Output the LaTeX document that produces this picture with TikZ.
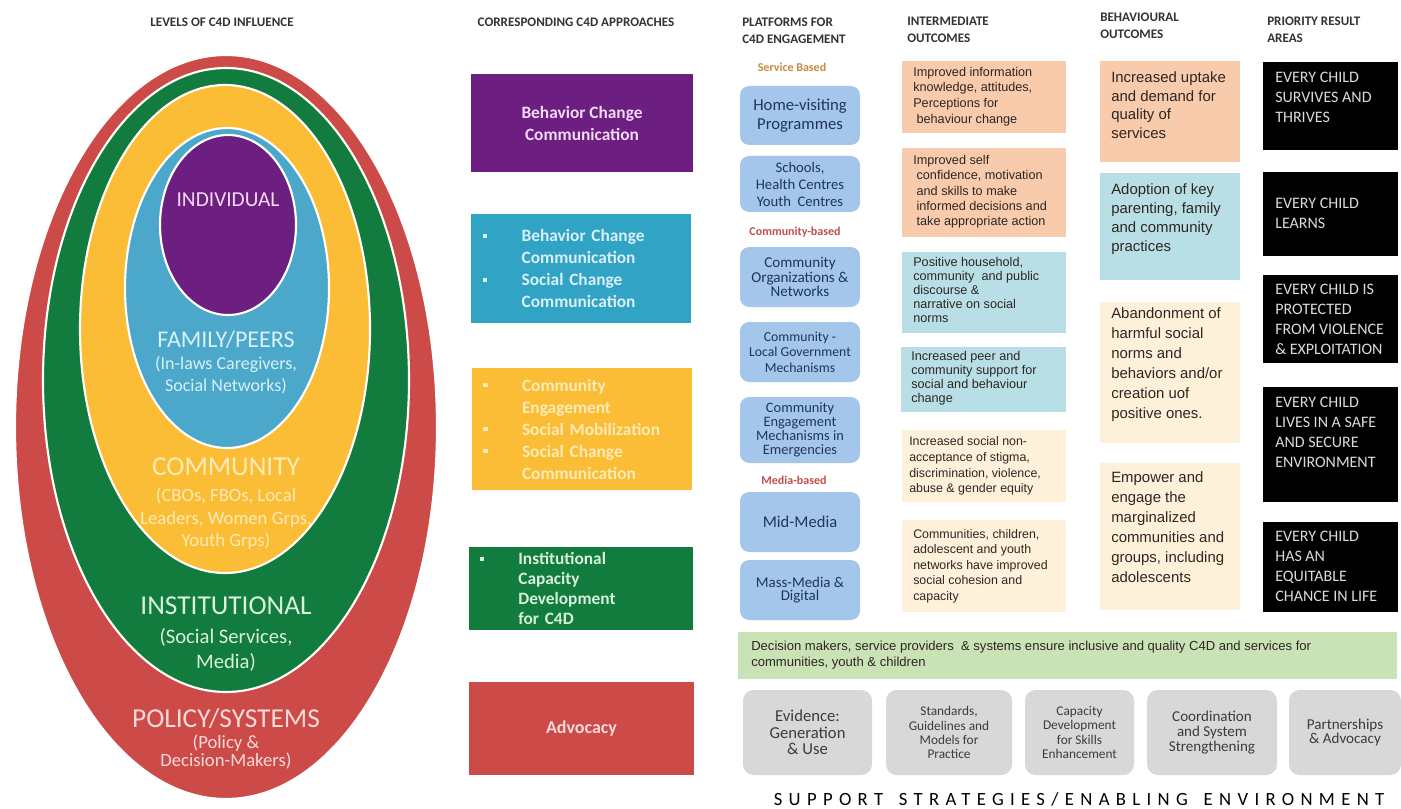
\documentclass[tikz,border=0pt]{standalone}
\usepackage{fontspec}
\setmainfont{Carlito}
\newfontfamily\arialfont{Liberation Sans}
\newfontfamily\spacedfont[LetterSpace=34,WordSpace=1.5]{Carlito}
\usetikzlibrary{shapes.geometric}

\definecolor{ringred}{HTML}{CC4B48}
\definecolor{ringgreen}{HTML}{117C3D}
\definecolor{ringyellow}{HTML}{FBBD35}
\definecolor{ringblue}{HTML}{4BA8CA}
\definecolor{ringpurple}{HTML}{6C1F80}
\definecolor{apteal}{HTML}{31A3C4}
\definecolor{platblue}{HTML}{A4C6EA}
\definecolor{navy}{HTML}{1F3658}
\definecolor{salmon}{HTML}{F8CBAD}
\definecolor{paleteal}{HTML}{B9DFE6}
\definecolor{cream}{HTML}{FDF1DA}
\definecolor{bargreen}{HTML}{C9E3B6}
\definecolor{supgray}{HTML}{D8D8D8}
\definecolor{headgray}{HTML}{333333}
\definecolor{svcorange}{HTML}{C98A3E}
\definecolor{comred}{HTML}{C0504D}
\definecolor{txtpurple}{HTML}{F2DAF5}
\definecolor{txtblue}{HTML}{D9F0F8}
\definecolor{txtyellow}{HTML}{FDEBB8}
\definecolor{txtgreen}{HTML}{D8F0DC}
\definecolor{txtred}{HTML}{F8DAD8}
\definecolor{bodytext}{HTML}{2E2622}
\definecolor{graytext}{HTML}{3C3C3C}

% square bullet and matching hanging indent for the approach boxes
\newcommand{\sqb}{\makebox[29pt][l]{\rule[2.8pt]{3.2pt}{3.2pt}}}
\newcommand{\hang}{\hspace*{29pt}}

\tikzset{
  ring/.style={ellipse, draw=white, line width=1.6pt, inner sep=0pt},
  dim/.style 2 args={minimum width=#1*0.75pt, minimum height=#2*0.75pt},
  head/.style={font=\bfseries\fontsize{9.8}{12.75}\selectfont, text=headgray, inner sep=0pt, align=left},
  approach/.style={inner sep=0pt, font=\bfseries\fontsize{13}{16.5}\selectfont},
  plat/.style={fill=platblue, rounded corners=7pt, inner sep=0pt, text=navy, align=center},
  platlabel/.style={font=\bfseries\fontsize{9}{11}\selectfont, inner sep=0pt},
  outbox/.style={inner sep=0pt},
  iotext/.style={anchor=west, align=left, inner sep=0pt, text=bodytext},
  botext/.style={anchor=west, align=left, inner sep=0pt, text=bodytext},
  prbox/.style={fill=black, inner sep=0pt},
  prtext/.style={anchor=west, align=left, inner sep=0pt, text=black!14,
                 font=\fontsize{12}{15}\selectfont},
  supbox/.style={fill=supgray, rounded corners=8pt, inner sep=0pt, text=graytext, align=center},
  lvltitle/.style={inner sep=0pt, align=center},
}

\begin{document}
\begin{tikzpicture}[x=0.75pt,y=-0.75pt]
\useasboundingbox (0,0) rectangle (1401,809);
\fill[white] (0,0) rectangle (1401,809);

% ---------------- levels of influence (nested ellipses)
\node[head, anchor=center] (h1) at (222,22) {LEVELS OF C4D INFLUENCE};
\node[ring, fill=ringred,    dim={422}{744}] (polring)  at (226,427) {};
\node[ring, fill=ringgreen,  dim={366}{624}] (instring) at (226,380) {};
\node[ring, fill=ringyellow, dim={290}{488}] (comring)  at (225,329) {};
\node[ring, fill=ringblue,   dim={204}{320}] (famring)  at (227,288) {};
\node[ring, fill=ringpurple, dim={136}{180}] (indring)  at (228,225) {};

\node[lvltitle, text=txtpurple, font=\fontsize{16}{18}\selectfont] (indt) at (228,200) {INDIVIDUAL};
\node[lvltitle, text=txtblue, font=\fontsize{18}{20}\selectfont] (famt) at (226,340) {FAMILY/PEERS};
\node[lvltitle, text=txtblue, font=\fontsize{13.5}{17}\selectfont] (fams) at (226,375) {(In-laws Caregivers,\\Social Networks)};
\node[lvltitle, text=txtyellow, font=\fontsize{20.5}{22}\selectfont] (comt) at (226,467) {COMMUNITY};
\node[lvltitle, text=txtyellow, font=\fontsize{14}{17}\selectfont] (coms) at (226,519) {(CBOs, FBOs, Local\\Leaders, Women Grps,\\Youth Grps)};
\node[lvltitle, text=txtgreen, font=\fontsize{20.5}{22}\selectfont] (inst) at (226,606) {INSTITUTIONAL};
\node[lvltitle, text=txtgreen, font=\fontsize{15.5}{19}\selectfont] (inss) at (226,650) {(Social Services,\\Media)};
\node[lvltitle, text=txtred, font=\fontsize{20.5}{22}\selectfont] (polt) at (226,719) {POLICY/SYSTEMS};
\node[lvltitle, text=txtred, font=\fontsize{14}{13.5}\selectfont] (pols) at (226,752) {(Policy \&\\Decision-Makers)};

% ---------------- corresponding approaches
\node[head, anchor=center] (h2) at (576,22) {CORRESPONDING C4D APPROACHES};
\node[approach, fill=ringpurple, text=txtpurple, dim={222}{98}, align=center] (bcc) at (582,123)
  {Behavior Change\\Communication};
\node[approach, fill=apteal, text=txtblue, dim={220}{109}, text width=147pt, align=left] (scc) at (581,268.5)
  {\sqb Behavior Change\\\hang Communication\\\sqb Social Change\\\hang Communication};
\node[approach, fill=ringyellow, text=txtyellow, dim={220}{122}, text width=148pt, align=left] (ceng) at (582,429)
  {\sqb Community\\\hang Engagement\\\sqb Social Mobilization\\\sqb Social Change\\\hang Communication};
\node[approach, fill=ringgreen, text=txtgreen, dim={224}{83}, text width=152pt, align=left,
      font=\bfseries\fontsize{13}{15}\selectfont] (icd) at (581,588.5)
  {\sqb Institutional\\\hang Capacity\\\hang Development\\\hang for C4D};
\node[approach, fill=ringred, text=txtred, dim={225}{93}, font=\bfseries\fontsize{13.5}{16}\selectfont] (adv) at (581.5,728.5)
  {Advocacy};

% ---------------- platforms
\node[head, anchor=west] (h3) at (742,30.5) {PLATFORMS FOR\\C4D ENGAGEMENT};
\node[platlabel, text=svcorange] (svc) at (792,67) {Service Based};
\node[plat, dim={120}{59}, font=\fontsize{12.5}{14.5}\selectfont] (hv) at (800,115.5) {Home-visiting\\Programmes};
\node[plat, dim={120}{56}, font=\fontsize{11}{12.75}\selectfont] (sch) at (800,184) {Schools,\\Health Centres\\Youth\ \ Centres};
\node[platlabel, text=comred] (cmb) at (795,232) {Community-based};
\node[plat, dim={120}{60}, font=\fontsize{11.3}{9}\selectfont] (org) at (800,277) {Community\\Organizations \&\\Networks};
\node[plat, dim={120}{60}, font=\fontsize{10.3}{11.5}\selectfont] (lgm) at (800,352) {Community -\\Local Government\\Mechanisms};
\node[plat, dim={120}{66}, font=\fontsize{10.8}{10.6}\selectfont] (emg) at (800,430) {Community\\Engagement\\Mechanisms in\\Emergencies};
\node[platlabel, text=comred] (mdb) at (794,480) {Media-based};
\node[plat, dim={120}{60}, font=\fontsize{12.4}{14}\selectfont] (mid) at (800,522) {Mid-Media};
\node[plat, dim={120}{60}, font=\fontsize{11.2}{10}\selectfont] (mass) at (800,590) {Mass-Media \&\\Digital};

% ---------------- intermediate outcomes
\node[head, anchor=west] (h4) at (907,30) {INTERMEDIATE\\OUTCOMES};
\node[outbox, fill=salmon,   dim={164}{72}] (io1) at (984,97) {};
\node[outbox, fill=salmon,   dim={164}{89}] (io2) at (984,192.5) {};
\node[outbox, fill=paleteal, dim={164}{81}] (io3) at (984,292.5) {};
\node[outbox, fill=paleteal, dim={165}{65}] (io4) at (983.5,379.5) {};
\node[outbox, fill=cream,    dim={164}{72}] (io5) at (984,466) {};
\node[outbox, fill=cream,    dim={164}{92}] (io6) at (984,566) {};
\node[iotext, font=\arialfont\fontsize{9.5}{11.8}\selectfont] (io1t) at (913,96.5)
  {Improved information\\knowledge, attitudes,\\Perceptions for\\\hspace*{2.5pt}behaviour change};
\node[iotext, font=\arialfont\fontsize{9.5}{11.5}\selectfont] (io2t) at (913,192)
  {Improved self\\\hspace*{2.5pt}confidence, motivation\\\hspace*{2.5pt}and skills to make\\\hspace*{2.5pt}informed decisions and\\\hspace*{2.5pt}take appropriate action};
\node[iotext, font=\arialfont\fontsize{9.5}{10.5}\selectfont] (io3t) at (913,290)
  {Positive household,\\community\ \ and public\\discourse \&\\narrative on social\\norms};
\node[iotext, font=\arialfont\fontsize{9.5}{10.5}\selectfont] (io4t) at (911,378)
  {Increased peer and\\community support for\\social and behaviour\\change};
\node[iotext, font=\arialfont\fontsize{9.3}{11.8}\selectfont] (io5t) at (909,466)
  {Increased social non-\\acceptance of stigma,\\discrimination, violence,\\abuse \& gender equity};
\node[iotext, font=\arialfont\fontsize{9.3}{11.6}\selectfont] (io6t) at (913,566)
  {Communities, children,\\adolescent and youth\\networks have improved\\social cohesion and\\capacity};

% ---------------- behavioural outcomes
\node[head, anchor=west] (h5) at (1100,26) {BEHAVIOURAL\\OUTCOMES};
\node[outbox, fill=salmon,   dim={140}{101}] (bo1) at (1170,111.5) {};
\node[outbox, fill=paleteal, dim={140}{107}] (bo2) at (1170,226.5) {};
\node[outbox, fill=cream,    dim={140}{141}] (bo3) at (1170,372.5) {};
\node[outbox, fill=cream,    dim={140}{147}] (bo4) at (1170,536.5) {};
\node[botext, font=\arialfont\fontsize{11.2}{14}\selectfont] (bo1t) at (1111,105)
  {Increased uptake\\and demand for\\quality of\\services};
\node[botext, font=\arialfont\fontsize{11.2}{14.3}\selectfont] (bo2t) at (1111,219)
  {Adoption of key\\parenting, family\\and community\\practices};
\node[botext, font=\arialfont\fontsize{11.2}{15}\selectfont] (bo3t) at (1111,365)
  {Abandonment of\\harmful social\\norms and\\behaviors and/or\\creation uof\\positive ones.};
\node[botext, font=\arialfont\fontsize{11.2}{15}\selectfont] (bo4t) at (1111,527)
  {Empower and\\engage the\\marginalized\\communities and\\groups, including\\adolescents};

% ---------------- priority result areas
\node[head, anchor=west] (h6) at (1267,30) {PRIORITY RESULT\\AREAS};
\node[prbox, dim={135}{88}]  (pr1) at (1330.5,106) {};
\node[prbox, dim={135}{84}]  (pr2) at (1330.5,214) {};
\node[prbox, dim={135}{88}]  (pr3) at (1330.5,319) {};
\node[prbox, dim={135}{115}] (pr4) at (1330.5,444.5) {};
\node[prbox, dim={135}{90}]  (pr5) at (1330.5,567) {};
\node[prtext] (pr1t) at (1275,97)  {EVERY CHILD\\SURVIVES AND\\THRIVES};
\node[prtext] (pr2t) at (1275,213) {EVERY CHILD\\LEARNS};
\node[prtext] (pr3t) at (1275,319) {EVERY CHILD IS\\PROTECTED\\FROM VIOLENCE\\\& EXPLOITATION};
\node[prtext] (pr4t) at (1275,432) {EVERY CHILD\\LIVES IN A SAFE\\AND SECURE\\ENVIRONMENT};
\node[prtext] (pr5t) at (1275,566) {EVERY CHILD\\HAS AN\\EQUITABLE\\CHANCE IN LIFE};

% ---------------- enabling environment
\node[outbox, fill=bargreen, dim={659}{47}] (bar) at (1067.5,655.5) {};
\node[iotext, font=\arialfont\fontsize{9.8}{12}\selectfont] (bart) at (751,655)
  {Decision makers, service providers\ \ \& systems ensure inclusive and quality C4D and services for\\communities, youth \& children};

\node[supbox, dim={129}{85}, font=\fontsize{12.5}{12.5}\selectfont] (sup1) at (807.5,732.5) {Evidence:\\Generation\\\& Use};
\node[supbox, dim={126}{85}, font=\fontsize{10}{10.6}\selectfont] (sup2) at (949,732.5) {Standards,\\Guidelines and\\Models for\\Practice};
\node[supbox, dim={109}{85}, font=\fontsize{10}{10.6}\selectfont] (sup3) at (1079.5,732.5) {Capacity\\Development\\for Skills\\Enhancement};
\node[supbox, dim={130}{85}, font=\fontsize{11.3}{11}\selectfont] (sup4) at (1212,732.5) {Coordination\\and System\\Strengthening};
\node[supbox, dim={112}{85}, font=\fontsize{11.3}{10.5}\selectfont] (sup5) at (1345,732.5) {Partnerships\\\& Advocacy};

\node[inner sep=0pt, text=black, font=\spacedfont\fontsize{14}{16}\selectfont] (supt) at (1079,799.5)
  {SUPPORT STRATEGIES/ENABLING ENVIRONMENT};
\end{tikzpicture}
\end{document}
